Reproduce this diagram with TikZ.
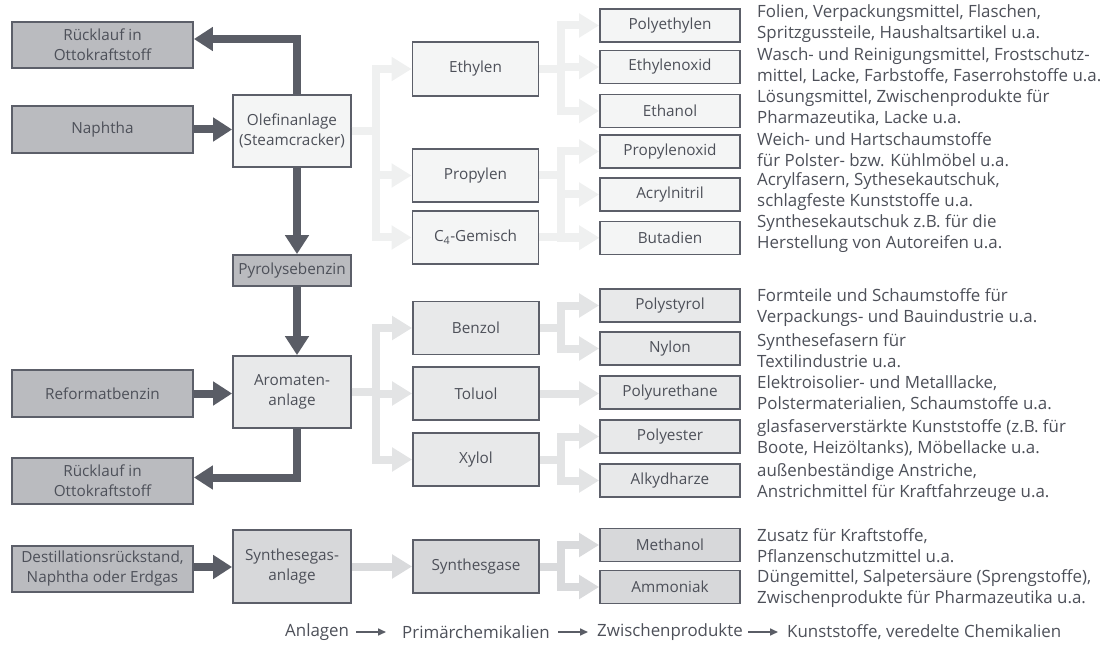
\documentclass[tikz,border=0pt]{standalone}
\usepackage{fontspec}
\setmainfont{Open Sans}
\usetikzlibrary{arrows.meta,calc}
\definecolor{edge}{HTML}{5C5F69}
\definecolor{txt}{HTML}{4D5059}
\definecolor{darkfill}{HTML}{BABBBF}
\definecolor{olefill}{HTML}{F4F5F5}
\definecolor{arofill}{HTML}{E8E9EA}
\definecolor{synfill}{HTML}{D7D8DA}
\definecolor{olearr}{HTML}{EFF0F0}
\definecolor{aroarr}{HTML}{E3E4E5}
\definecolor{synarr}{HTML}{D9DADC}
\definecolor{darkarr}{HTML}{5A5D66}
\begin{document}
\begin{tikzpicture}[x=1pt,y=-1pt,
  font=\fontsize{15.3}{20}\selectfont,
  box/.style={draw=edge, line width=1.8pt, inner sep=0pt, align=center, text=txt},
  inbox/.style={box, fill=darkfill, minimum width=181pt},
  plant/.style={box, minimum width=118pt, minimum height=72pt},
  prim/.style={box, minimum width=126pt, minimum height=53pt},
  prod/.style={box, minimum width=140pt, minimum height=33pt},
  desc/.style={anchor=west, align=left, inner sep=0pt, text=txt, font=\fontsize{16.9}{20.5}\selectfont},
  darkarrow/.style={draw=darkarr, line width=8pt, -{Triangle[length=19pt,width=23pt]}},
  ltarrow/.style={line width=8pt, -{Triangle[length=20pt,width=23pt]}},
  legarrow/.style={draw=darkarr, line width=1.6pt, -{Triangle[length=8pt,width=7pt]}},
  legtext/.style={anchor=west, inner sep=0pt, text=txt, font=\fontsize{16.9}{20}\selectfont}
]
\useasboundingbox (0,0) rectangle (1111,647);

% bus x positions
\coordinate (busA) at (376,0);
\coordinate (busB) at (561,0);

% ---------- nodes ----------
\node[inbox, minimum height=46pt] (r1) at (102.5,45) {Rücklauf in\\Ottokraftstoff};
\node[inbox, minimum height=47pt] (naph) at (102.5,129.5) {Naphtha};
\node[inbox, minimum height=47pt] (reform) at (102.5,393.5) {Reformatbenzin};
\node[inbox, minimum height=46pt] (r2) at (102.5,481) {Rücklauf in\\Ottokraftstoff};
\node[inbox, minimum height=46pt] (dest) at (102.5,569) {Destillationsrückstand,\\Naphtha oder Erdgas};

\node[plant, fill=olefill] (ole) at (292,131) {Olefinanlage\\(Steamcracker)};
\node[box, fill=darkfill, minimum width=118pt, minimum height=31pt] (pyro) at (292,270.5) {Pyrolysebenzin};
\node[plant, fill=arofill] (aro) at (292,392) {Aromaten-\\anlage};
\node[plant, fill=synfill, minimum height=73pt] (syn) at (292,566.5) {Synthesegas-\\anlage};

\node[prim, fill=olefill, minimum height=54pt] (eth) at (475.5,69) {Ethylen};
\node[prim, fill=olefill] (prop) at (475.5,175.5) {Propylen};
\node[prim, fill=olefill] (c4) at (475.5,237.5) {C\textsubscript{4}-Gemisch};
\node[prim, fill=arofill] (benz) at (476,328) {Benzol};
\node[prim, fill=arofill] (tol) at (476,393.5) {Toluol};
\node[prim, fill=arofill] (xyl) at (476,459.5) {Xylol};
\node[prim, fill=synfill] (sgas) at (476,566.5) {Synthesgase};

\node[prod, fill=olefill] (pe) at (670,25.5) {Polyethylen};
\node[prod, fill=olefill] (eo) at (670,67) {Ethylenoxid};
\node[prod, fill=olefill] (etoh) at (670,111) {Ethanol};
\node[prod, fill=olefill] (po) at (670,151.5) {Propylenoxid};
\node[prod, fill=olefill] (an) at (670,194.5) {Acrylnitril};
\node[prod, fill=olefill] (bd) at (670,238) {Butadien};
\node[prod, fill=arofill] (ps) at (670,305.5) {Polystyrol};
\node[prod, fill=arofill] (ny) at (670,348.5) {Nylon};
\node[prod, fill=arofill] (pu) at (670,392.5) {Polyurethane};
\node[prod, fill=arofill] (pes) at (670,436.5) {Polyester};
\node[prod, fill=arofill] (alk) at (670,480.5) {Alkydharze};
\node[prod, fill=synfill] (meoh) at (670,545) {Methanol};
\node[prod, fill=synfill] (nh3) at (670,587) {Ammoniak};

% descriptions
\node[desc] (dpe) at (757,23.5) {Folien, Verpackungsmittel, Flaschen,\\Spritzgussteile, Haushaltsartikel u.a.};
\node[desc] (deo) at (757,65.5) {Wasch- und Reinigungsmittel, Frostschutz-\\mittel, Lacke, Farbstoffe, Faserrohstoffe u.a.};
\node[desc] (detoh) at (757,107.5) {Lösungsmittel, Zwischenprodukte für\\Pharmazeutika, Lacke u.a.};
\node[desc] (dpo) at (757,149.5) {Weich- und Hartschaumstoffe\\für Polster- bzw. Kühlmöbel u.a.};
\node[desc] (dan) at (757,191.5) {Acrylfasern, Sythesekautschuk,\\schlagfeste Kunststoffe u.a.};
\node[desc] (dbd) at (757,233.5) {Synthesekautschuk z.B. für die\\Herstellung von Autoreifen u.a.};
\node[desc] (dps) at (757,307.5) {Formteile und Schaumstoffe für\\Verpackungs- und Bauindustrie u.a.};
\node[desc] (dny) at (757,350.5) {Synthesefasern für\\Textilindustrie u.a.};
\node[desc] (dpu) at (757,393.5) {Elektroisolier- und Metalllacke,\\Polstermaterialien, Schaumstoffe u.a.};
\node[desc] (dpes) at (757,438) {glasfaserverstärkte Kunststoffe (z.B. für\\Boote, Heizöltanks), Möbellacke u.a.};
\node[desc] (dalk) at (757,482.5) {außenbeständige Anstriche,\\Anstrichmittel für Kraftfahrzeuge u.a.};
\node[desc] (dmeoh) at (757,545.5) {Zusatz für Kraftstoffe,\\Pflanzenschutzmittel u.a.};
\node[desc] (dnh3) at (757,588.5) {Düngemittel, Salpetersäure (Sprengstoffe),\\Zwischenprodukte für Pharmazeutika u.a.};

% ---------- light connectors ----------
% Olefin group
\foreach \t in {eth,prop,c4}
  \draw[ltarrow, olearr] (ole.east) -- (ole.east -| busA) |- (\t.west);
\foreach \t in {pe,eo,etoh}
  \draw[ltarrow, olearr] (eth.east) -- (eth.east -| busB) |- (\t.west);
\foreach \t in {po,an,bd}
  \draw[ltarrow, olearr] (prop.east) -- (prop.east -| busB) |- (\t.west);
\draw[ltarrow, olearr] (c4.east) -- (c4.east -| bd.west);
% Aromaten group
\foreach \t in {benz,tol,xyl}
  \draw[ltarrow, aroarr] (aro.east) -- (aro.east -| busA) |- (\t.west);
\foreach \t in {ps,ny}
  \draw[ltarrow, aroarr] (benz.east) -- (benz.east -| busB) |- (\t.west);
\draw[ltarrow, aroarr] (tol.east) -- (tol.east -| pu.west);
\foreach \t in {pes,alk}
  \draw[ltarrow, aroarr] (xyl.east) -- (xyl.east -| busB) |- (\t.west);
% Synthese group
\draw[ltarrow, synarr] (syn.east) -- (syn.east -| sgas.west);
\foreach \t in {meoh,nh3}
  \draw[ltarrow, synarr] (sgas.east) -- (sgas.east -| busB) |- (\t.west);

% ---------- dark connectors ----------
\draw[darkarrow] ([xshift=5pt]ole.north) |- ($(r1.east)+(0,-6)$);
\draw[darkarrow] (naph.east) -- (naph.east -| ole.west);
\draw[darkarrow] ([xshift=5pt]ole.south) -- ([xshift=5pt]pyro.north);
\draw[darkarrow] ([xshift=5pt]pyro.south) -- ([xshift=5pt]aro.north);
\draw[darkarrow] (reform.east) -- (reform.east -| aro.west);
\draw[darkarrow] ([xshift=5pt]aro.south) |- ($(r2.east)+(0,-3.5)$);
\draw[darkarrow] ($(dest.east)+(0,-2)$) -- ($(dest.east -| syn.west)+(0,-2)$);

% legend
\node[legtext] (l1) at (285,632) {Anlagen};
\node[legtext] (l2) at (402,632) {Primärchemikalien};
\node[legtext] (l3) at (597,632) {Zwischenprodukte};
\node[legtext] (l4) at (787,632) {Kunststoffe, veredelte Chemikalien};
\draw[legarrow] ([xshift=-46pt]l2.west) -- ([xshift=-16pt]l2.west);
\draw[legarrow] ([xshift=-39pt]l3.west) -- ([xshift=-9pt]l3.west);
\draw[legarrow] ([xshift=-39pt]l4.west) -- ([xshift=-9pt]l4.west);
\end{tikzpicture}
\end{document}
